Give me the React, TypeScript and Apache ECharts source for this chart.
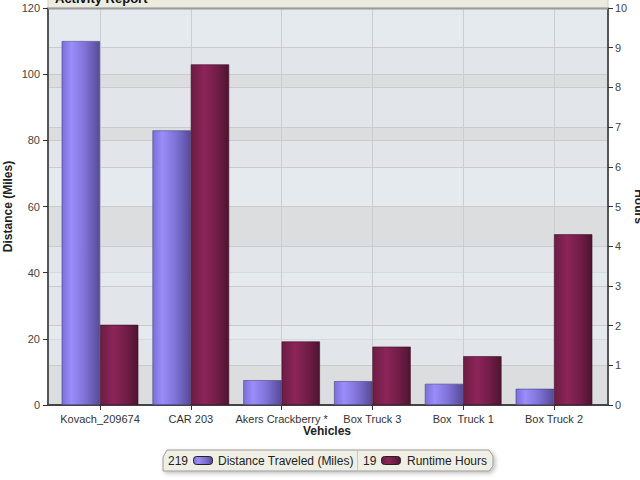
import React, { useEffect, useRef } from "react";
import * as echarts from "echarts";

const categories = ["Kovach_209674", "CAR 203", "Akers Crackberry *", "Box Truck 3", "Box  Truck 1", "Box Truck 2"];
const distanceMiles = [110, 83, 7.5, 7.2, 6.4, 4.9];
const runtimeHours = [2.02, 8.58, 1.6, 1.47, 1.23, 4.3];
const distanceTicks = { min: 0, max: 120, interval: 20 };
const hoursTicks = { min: 0, max: 10, interval: 1 };
const seriesNames = ["Distance Traveled (Miles)", "Runtime Hours"];
const chartTitle = "Activity Report";

const FONT = "'Liberation Sans', Arial, sans-serif";

const blueGrad = new echarts.graphic.LinearGradient(0, 0, 1, 0, [
  { offset: 0, color: "#7a6fd8" },
  { offset: 0.25, color: "#9b8dfa" },
  { offset: 0.6, color: "#7f73d8" },
  { offset: 1, color: "#564b98" },
]);
const redGrad = new echarts.graphic.LinearGradient(0, 0, 1, 0, [
  { offset: 0, color: "#6c1c44" },
  { offset: 0.35, color: "#8c2559" },
  { offset: 0.7, color: "#701d47" },
  { offset: 1, color: "#4e1430" },
]);

export default function App() {
  const ref = useRef<HTMLDivElement>(null);
  useEffect(() => {
    if (!ref.current) return;
    const chart = echarts.init(ref.current, undefined, { renderer: "svg" });
    const totalMiles = Math.round(distanceMiles.reduce((a, b) => a + b, 0));
    const totalHours = Math.round(runtimeHours.reduce((a, b) => a + b, 0));

    const top = 8;
    const bottom = 75;
    const labelStyle = {
      color: "#444444",
      fontSize: 11,
      fontFamily: FONT,
      formatter: "{g|{value}}",
      rich: { g: { color: "#444444", fontSize: 11, fontFamily: FONT } },
    };

    chart.setOption({
      animation: false,
      textStyle: { fontFamily: FONT },
      grid: [
        {
          left: 48, right: 32, top, bottom, show: true, backgroundColor: "#dcdddf", borderWidth: 0,
          outerBoundsMode: "none", containLabel: false,
        },
        { left: 54.6, right: 40.6, top, bottom, outerBoundsMode: "none", containLabel: false },
      ],
      xAxis: [
        {
          type: "value",
          gridIndex: 0,
          min: 0,
          max: 1,
          axisLine: { show: true, lineStyle: { color: "#444", width: 2 } },
          axisTick: { show: false },
          axisLabel: { show: false },
          splitLine: { show: false },
        },
        {
          type: "category",
          gridIndex: 1,
          data: categories,
          axisLine: { show: false },
          axisTick: { show: true, alignWithLabel: true, length: 5, lineStyle: { color: "#333" } },
          axisLabel: { color: "#333", fontSize: 11, margin: 8, interval: 0, fontFamily: FONT },
          splitLine: { show: true, alignWithLabel: true, lineStyle: { color: "#cdcdcf", width: 1 } },
          name: "Vehicles",
          nameLocation: "middle",
          nameGap: 20,
          nameMoveOverlap: false,
          nameTextStyle: { fontWeight: "bold", fontSize: 12, color: "#222", fontFamily: FONT },
        },
      ],
      yAxis: [
        {
          type: "value",
          gridIndex: 0,
          position: "left",
          ...distanceTicks,
          axisLine: { show: true, lineStyle: { color: "#555555", width: 2 } },
          axisTick: { show: true, length: 5, lineStyle: { color: "#333333" } },
          axisLabel: { ...labelStyle, margin: 8 },
          splitLine: { show: true, lineStyle: { color: "#cbcbcd" } },
          splitArea: { show: true, areaStyle: { color: ["rgba(0,0,0,0)", "rgba(236,242,248,0.4)"] } },
          name: "Distance (Miles)",
          nameLocation: "middle",
          nameGap: 34,
          nameMoveOverlap: false,
          nameTextStyle: { fontWeight: "bold", fontSize: 12, color: "#222", fontFamily: FONT },
        },
        {
          type: "value",
          gridIndex: 0,
          position: "right",
          ...hoursTicks,
          axisLine: { show: true, lineStyle: { color: "#555555", width: 2 } },
          axisTick: { show: true, length: 5, lineStyle: { color: "#333333" } },
          axisLabel: { ...labelStyle, margin: 7 },
          splitLine: { show: true, lineStyle: { color: "#cbcbcd" } },
          splitArea: { show: true, areaStyle: { color: ["rgba(0,0,0,0)", "rgba(236,242,248,0.4)"] } },
          name: "Hours",
          nameLocation: "middle",
          nameRotate: -90,
          nameGap: 25,
          nameMoveOverlap: false,
          nameTextStyle: { fontWeight: "bold", fontSize: 12, color: "#222", fontFamily: FONT },
        },
        { type: "value", gridIndex: 1, ...distanceTicks, show: false, splitLine: { show: false } },
        { type: "value", gridIndex: 1, ...hoursTicks, show: false, splitLine: { show: false } },
      ],
      series: [
        {
          type: "bar",
          name: seriesNames[0],
          xAxisIndex: 1,
          yAxisIndex: 2,
          data: distanceMiles,
          barGap: "0%",
          barCategoryGap: "15.6%",
          itemStyle: { color: blueGrad, borderColor: "#4a4280", borderWidth: 0.6 },
        },
        {
          type: "bar",
          name: seriesNames[1],
          xAxisIndex: 1,
          yAxisIndex: 3,
          data: runtimeHours,
          barGap: "0%",
          barCategoryGap: "15.6%",
          itemStyle: { color: redGrad, borderColor: "#3e0f27", borderWidth: 0.6 },
        },
      ],
      graphic: [
        {
          type: "rect",
          shape: { x: 48, y: -12, width: 560, height: 20 },
          style: { fill: "#ebebe0", stroke: "#cfcfc4", lineWidth: 1 },
          z: 10,
        },
        {
          type: "line",
          shape: { x1: 48, y1: 8.5, x2: 608, y2: 8.5 },
          style: { stroke: "#9a9a9a", lineWidth: 2 },
          z: 11,
        },
        {
          type: "text",
          x: 55,
          y: 5,
          style: {
            text: chartTitle,
            fontSize: 13,
            fontWeight: "bold",
            fontFamily: FONT,
            fill: "#111",
            verticalAlign: "bottom",
          },
          z: 12,
        },
        {
          type: "polygon",
          shape: {
            points: [
              [167, 450],
              [489, 450],
              [493, 456],
              [493, 466],
              [489, 471],
              [163, 471],
              [163, 457],
            ],
          },
          style: {
            fill: "#efefe6",
            stroke: "#9a9a9a",
            lineWidth: 1,
            shadowBlur: 4,
            shadowOffsetX: 2,
            shadowOffsetY: 2,
            shadowColor: "rgba(0,0,0,0.25)",
          },
          z: 20,
        },
        {
          type: "line",
          shape: { x1: 357.5, y1: 451, x2: 357.5, y2: 470 },
          style: { stroke: "#c8c8c0", lineWidth: 1 },
          z: 21,
        },
        {
          type: "text",
          x: 168,
          y: 460.5,
          style: { text: String(totalMiles), fontSize: 12, fontFamily: FONT, fill: "#222", verticalAlign: "middle" },
          z: 21,
        },
        {
          type: "rect",
          shape: { x: 193.5, y: 456.5, width: 19, height: 8, r: 3 },
          style: { fill: blueGrad, stroke: "#222", lineWidth: 1 },
          z: 21,
        },
        {
          type: "text",
          x: 218,
          y: 460.5,
          style: { text: seriesNames[0], fontSize: 12, fontFamily: FONT, fill: "#222", verticalAlign: "middle" },
          z: 21,
        },
        {
          type: "text",
          x: 363,
          y: 460.5,
          style: { text: String(totalHours), fontSize: 12, fontFamily: FONT, fill: "#222", verticalAlign: "middle" },
          z: 21,
        },
        {
          type: "rect",
          shape: { x: 381.5, y: 456.5, width: 19, height: 8, r: 3 },
          style: { fill: redGrad, stroke: "#222", lineWidth: 1 },
          z: 21,
        },
        {
          type: "text",
          x: 407,
          y: 460.5,
          style: { text: seriesNames[1], fontSize: 12, fontFamily: FONT, fill: "#222", verticalAlign: "middle" },
          z: 21,
        },
      ],
    });
    return () => chart.dispose();
  }, []);
  return <div ref={ref} style={{ width: 640, height: 480, position: "absolute", left: 0, top: 0 }} />;
}
